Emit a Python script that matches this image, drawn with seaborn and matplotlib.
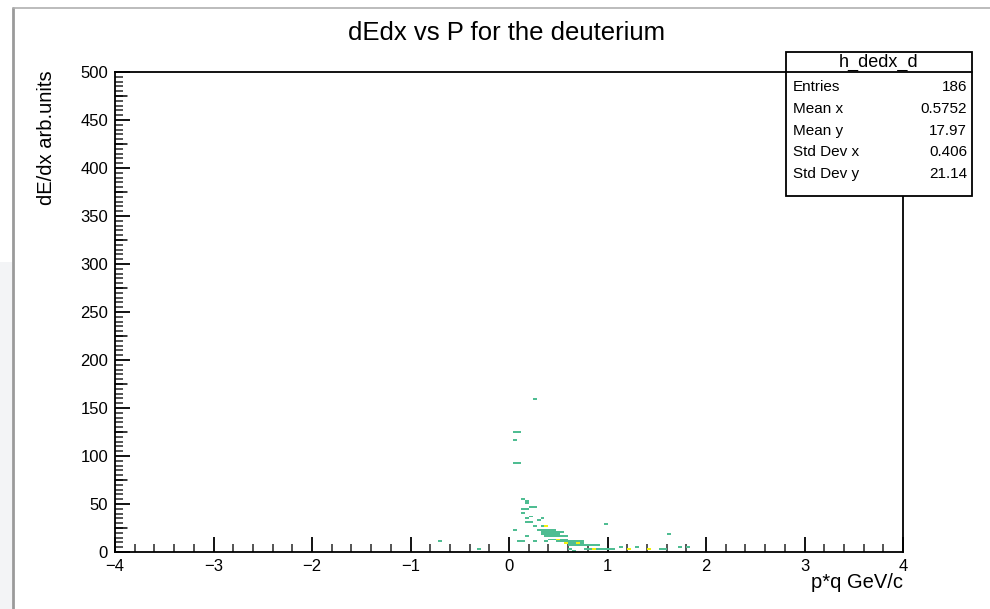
import matplotlib
matplotlib.use("Agg")
import matplotlib.pyplot as plt
import seaborn as sns
import pandas as pd
from matplotlib.colors import ListedColormap
from matplotlib.patches import Rectangle
from matplotlib.lines import Line2D
from matplotlib.ticker import MultipleLocator

# ---- data: (p*q, dE/dx) entries ----
p_scatter = [0.27, 0.08, 0.12, 0.064, 0.064, 0.12, 0.122, 0.193, 0.193, 0.21, 0.19, 0.16,
             0.146, 0.173, 0.173, 0.21, 0.24, 0.044, 0.264, 0.315, 0.349, 0.97, 0.17,
             0.094, 0.135, 0.28, 1.64, -0.71, -0.28]
dedx_scatter = [159, 125, 125, 117, 92, 92, 54, 53.5, 51.4, 47, 45.5, 44.4,
                40, 34, 30.5, 36, 30.5, 23, 46.5, 33, 34, 29, 16,
                10, 11, 10, 19, 10, 3]

p_band = [0.28, 0.33, 0.37, 0.40,
          0.30, 0.34, 0.38, 0.43, 0.45,
          0.33, 0.37, 0.41, 0.45, 0.49, 0.53,
          0.35, 0.39, 0.43, 0.47, 0.50,
          0.38, 0.42, 0.46, 0.50, 0.55, 0.57,
          0.42, 0.46, 0.49, 0.49, 0.53, 0.58,
          0.38, 0.49, 0.53, 0.57, 0.62, 0.66, 0.71, 0.75,
          0.60, 0.60, 0.64, 0.67, 0.72, 0.72, 0.76,
          0.62, 0.66, 0.70, 0.74, 0.78, 0.83, 0.87, 0.92,
          0.79, 0.83, 0.88, 0.92, 0.96, 1.00, 1.04, 1.08,
          0.64, 0.86, 0.65]
dedx_band = [26, 26, 26, 26,
             23.6, 23.6, 23.6, 23.6, 23.6,
             21, 21, 21, 21, 21, 21,
             18.7, 18.7, 18.7, 18.7, 18.7,
             16, 16, 16, 16, 16, 16,
             13.5, 13.5, 13.5, 13.5, 13.5, 13.5,
             10.8, 10.8, 10.8, 10.8, 10.8, 10.8, 10.8, 10.8,
             8.3, 8.3, 8.3, 8.3, 8.3, 8.3, 8.3,
             6, 6, 6, 6, 6, 6, 6, 6,
             3.8, 3.8, 3.8, 3.8, 3.8, 3.8, 3.8, 3.8,
             2, 2, 1.5]

p_tail = [1.15, 1.21, 1.23, 1.24, 1.31, 1.41, 1.43, 1.56, 1.58, 1.75, 1.82]
dedx_tail = [4, 2.5, 2, 2.5, 4, 3, 2, 3, 3, 4, 4]

x_ticks = [-4, -3, -2, -1, 0, 1, 2, 3, 4]
y_ticks = [0, 50, 100, 150, 200, 250, 300, 350, 400, 450, 500]

stats_names = ["Entries", "Mean x", "Mean y", "Std Dev x", "Std Dev y"]
stats_values = ["186", "0.5752", "17.97", "0.406", "21.14"]

df = pd.DataFrame({"p": p_scatter + p_band + p_tail,
                   "dedx": dedx_scatter + dedx_band + dedx_tail})

sns.set_style("white")
plt.rcParams["font.family"] = ["Liberation Sans", "DejaVu Sans"]
plt.rcParams["text.color"] = "black"

W, H = 990, 609
fig = plt.figure(figsize=(W / 100, H / 100), dpi=100)
fig.patch.set_facecolor("white")

def fx(px):
    return px / W

def fy(py):
    return 1 - py / H

ax = fig.add_axes([fx(115), fy(552), fx(903) - fx(115), fy(72) - fy(552)])

cmap = ListedColormap(["#4fbd92", "#f2f20e"])
sns.histplot(data=df, x="p", y="dedx", binwidth=(0.04, 2),
             binrange=((-4, 4), (0, 500)), cmap=cmap, vmin=0.5, vmax=2.5,
             cbar=False, ax=ax)

ax.set_xlim(-4, 4)
ax.set_ylim(0, 500)
ax.set_xticks(x_ticks)
ax.set_yticks(y_ticks)
ax.set_xticklabels([f"{t:d}".replace("-", "\u2212") for t in x_ticks])
ax.xaxis.set_minor_locator(MultipleLocator(0.2))
ax.yaxis.set_minor_locator(MultipleLocator(5))
ax.tick_params(axis="both", which="major", direction="in", length=11, width=1.3,
               labelsize=12, pad=5, colors="black")
ax.tick_params(axis="both", which="minor", direction="in", length=6, width=1.1)
ax.tick_params(top=False, right=False, which="both")
ax.tick_params(axis="x", which="both", bottom=True)
ax.tick_params(axis="y", which="both", left=True)
# medium-length y ticks at the half divisions
for yv in range(25, 500, 50):
    ax.add_line(Line2D([0, 12 / 788], [yv, yv], transform=ax.get_yaxis_transform(),
                       color="black", lw=1.1, clip_on=False))
for s in ax.spines.values():
    s.set_linewidth(1.3)
    s.set_color("black")
ax.set_xlabel("")
ax.set_ylabel("")

fig.text(fx(903), fy(582), "p*q GeV/c", ha="right", va="center", fontsize=14.5)
fig.text(fx(47), fy(70), "dE/dx arb.units", ha="center", va="top", rotation=90, fontsize=14.5)
fig.text(fx(507), fy(33), "dEdx vs P for the deuterium", ha="center", va="center", fontsize=18.5)

# canvas frame (screenshot border)
fig.add_artist(Rectangle((0, 0), fx(12), fy(262), transform=fig.transFigure,
                         facecolor="#f3f4f6", edgecolor="none", zorder=0))
fig.add_artist(Line2D([fx(13), fx(13)], [0, fy(8)], transform=fig.transFigure,
                      color="#9a9a9a", lw=2))
fig.add_artist(Line2D([fx(13), 1], [fy(8), fy(8)], transform=fig.transFigure,
                      color="#b0b0b0", lw=1.2))

# stats box
bx0, bx1, by0, by1, byh = fx(786), fx(972), fy(196), fy(52), fy(72)
fig.add_artist(Rectangle((bx0, by0), bx1 - bx0, by1 - by0, transform=fig.transFigure,
                         facecolor="white", edgecolor="black", lw=1.3, zorder=5))
fig.add_artist(Line2D([bx0, bx1], [byh, byh], transform=fig.transFigure,
                      color="black", lw=1.3, zorder=6))
fig.text((bx0 + bx1) / 2, fy(62), "h_dedx_d", ha="center", va="center", fontsize=13, zorder=7)
row_y = [87, 109, 131, 152, 174]
for name, val, ry in zip(stats_names, stats_values, row_y):
    fig.text(fx(793), fy(ry), name, ha="left", va="center", fontsize=11, zorder=7)
    fig.text(fx(967), fy(ry), val, ha="right", va="center", fontsize=11, zorder=7)

fig.savefig("out.png", dpi=100, facecolor="white")
